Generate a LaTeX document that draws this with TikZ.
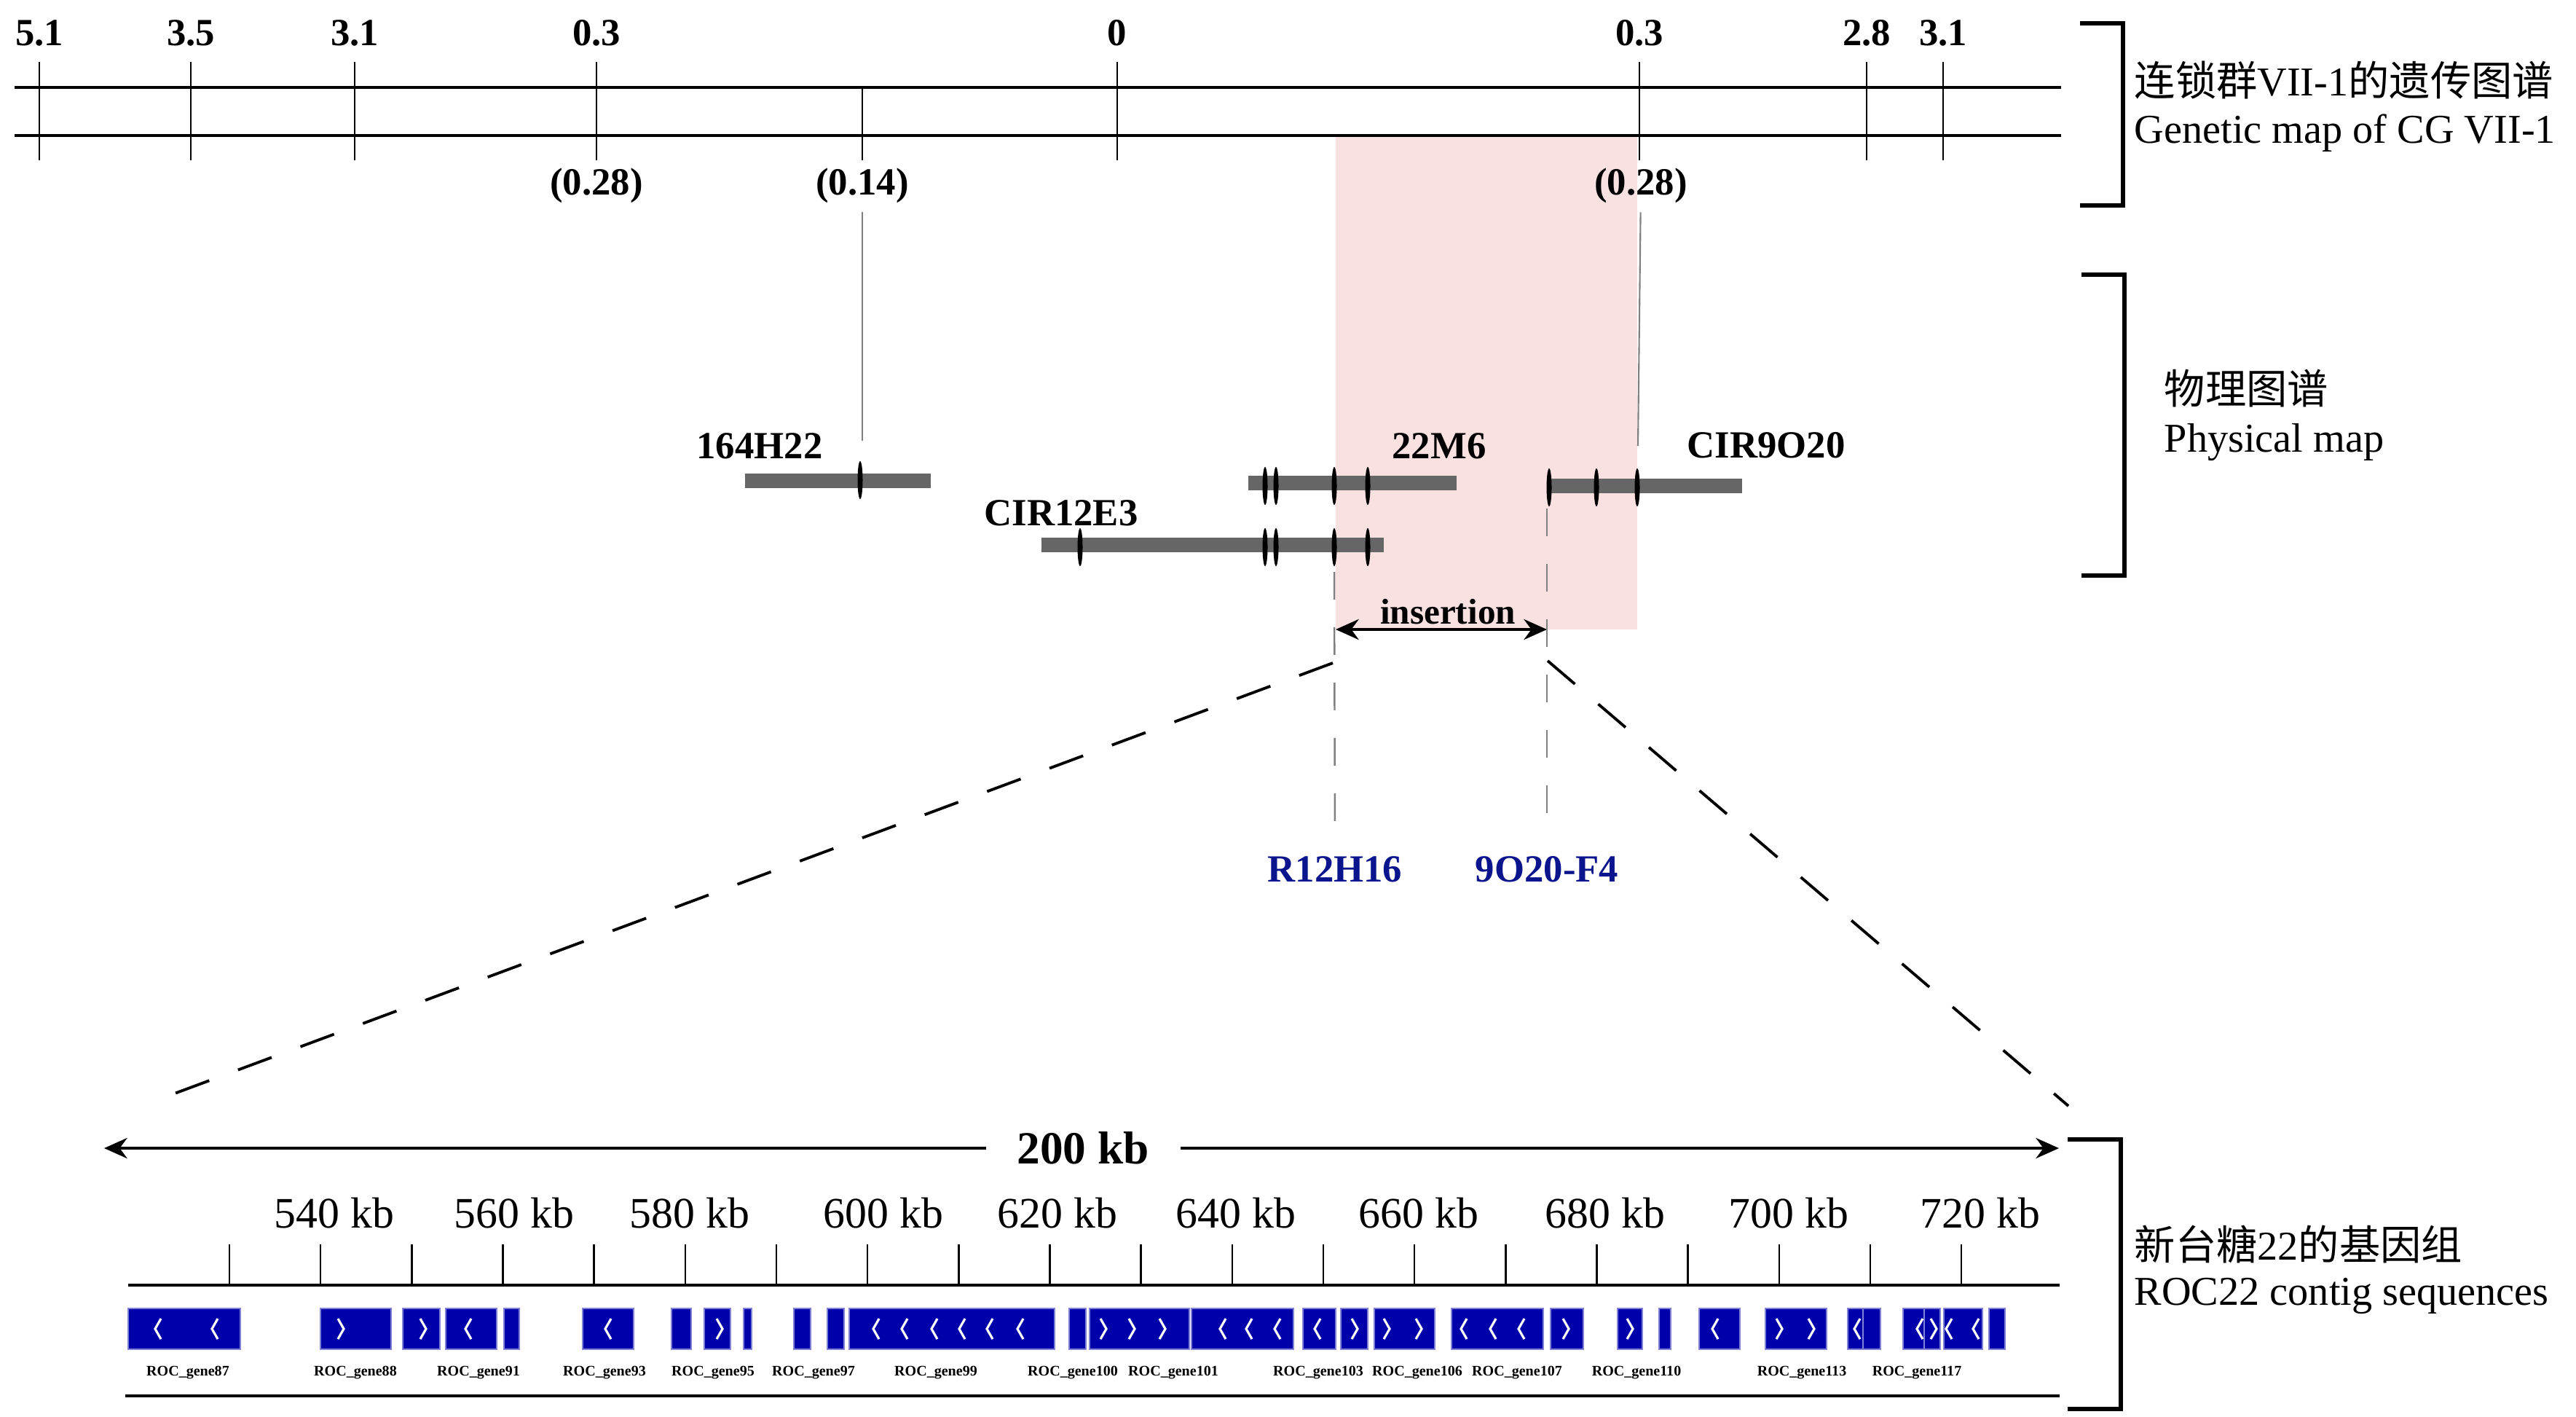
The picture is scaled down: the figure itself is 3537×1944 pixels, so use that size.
\documentclass[tikz,border=0pt]{standalone}
\usepackage{fontspec}
\setmainfont{Liberation Serif}
\newfontfamily\cjk{Noto Sans CJK SC}
\usetikzlibrary{arrows.meta}
\definecolor{insertpink}{RGB}{249,224,225}
\definecolor{clonegray}{RGB}{102,102,102}
\definecolor{geneblue}{RGB}{0,0,170}
\definecolor{markerblue}{RGB}{10,20,140}

\begin{document}
\begin{tikzpicture}[x = 0.01cm, y = -0.01cm,
    cmlabel/.style = {font = \fontsize{15}{18}\selectfont\bfseries},
    scalelabel/.style = {font = \fontsize{17}{20}\selectfont},
    genelabel/.style = {font = \fontsize{5.7}{6}\selectfont\bfseries},
    markerlabel/.style = {markerblue, font = \fontsize{15}{18}\selectfont\bfseries},
    sidelabel/.style = {anchor = west, inner sep = 0pt, font = \fontsize{16}{19}\selectfont},
    clonebar/.style = {clonegray, line width = 5.6pt},
    bracket/.style = {line width = 1.8pt},
    tipped/.style = {line width = 1.1pt, arrows = {Stealth[length = 9pt, width = 8pt]-Stealth[length = 9pt, width = 8pt]}},
]
    \useasboundingbox (0, 0) rectangle (3537, 1944);
    \fill [insertpink] (1834, 188) rectangle (2248, 864);

    \draw [line width = 1.2pt] (20, 120) -- (2830, 120);
    \draw [line width = 1.2pt] (20, 186) -- (2830, 186);
    \foreach \x/\v [count = \n] in {54/5.1, 262/3.5, 487/3.1, 819/0.3, 1534/0, 2251/0.3, 2563/2.8, 2668/3.1} {
        \draw [line width = 0.7pt] (\x, 85) -- (\x, 220);
        \node [cmlabel] (cm\n) at (\x, 45) {\v};
    }
    \draw [line width = 0.7pt] (1184, 120) -- (1184, 220);
    \node [cmlabel] (dist1) at (819, 255) {(0.28)};
    \node [cmlabel] (dist2) at (1184, 255) {(0.14)};
    \node [cmlabel] (dist3) at (2253, 255) {(0.28)};

    \coordinate (top164) at (1184, 605);
    \coordinate (top9O20) at (2249, 612);
    \draw [gray, line width = 0.6pt] (dist2) -- (top164);
    \draw [gray, line width = 0.6pt] (dist3) -- (top9O20);

    \foreach \a/\b/\y in {1023/1278/660, 1714/2000/663, 2127/2392/667, 1430/1900/748} {
        \draw [clonebar] (\a, \y) -- (\b, \y);
    }
    \foreach \x/\y in {1181/659, 1737/667, 1752/667, 1832/667, 1878/667, 2127/669, 2192/669, 2248/669,
                       1483/751, 1737/751, 1752/751, 1832/751, 1878/751} {
        \fill (\x, \y) ellipse (3.5 and 26);
    }
    \node [cmlabel] (c164H22) at (1043, 612) {164H22};
    \node [cmlabel] (c22M6) at (1976, 612) {22M6};
    \node [cmlabel] (cCIR9O20) at (2425, 611) {CIR9O20};
    \node [cmlabel] (cCIR12E3) at (1457, 704) {CIR12E3};

    \coordinate (insL) at (1834, 864);
    \coordinate (insR) at (2124, 864);
    \draw [tipped] (insL) -- (insR);
    \node [font = \fontsize{14}{17}\selectfont\bfseries] (insert) at (1988, 840) {insertion};

    \coordinate (cutL) at (1832, 785);
    \coordinate (cutR) at (2124, 698);
    \node [markerlabel] (r12) at (1833, 1193) {R12H16};
    \node [markerlabel] (f4) at (2124, 1193) {9O20-F4};
    \draw [gray, line width = 0.7pt, dash pattern = on 10.8pt off 10.8pt, shorten > = 7pt] (cutL) -- (r12);
    \draw [gray, line width = 0.7pt, dash pattern = on 10.8pt off 10.8pt, shorten > = 7pt] (cutR) -- (f4);

    \coordinate (zoomL) at (1830, 910);
    \coordinate (zoomR) at (2125, 907);
    \coordinate (contigL) at (226, 1506);
    \coordinate (contigR) at (2840, 1518);
    \draw [line width = 1.1pt, dash pattern = on 14pt off 12pt] (zoomL) -- (contigL);
    \draw [line width = 1.1pt, dash pattern = on 14pt off 12pt] (zoomR) -- (contigR);

    \node [font = \fontsize{18}{21}\selectfont\bfseries, inner xsep = 12pt] (span) at (1487, 1576) {200 kb};
    \coordinate (spanL) at (143, 1576);
    \coordinate (spanR) at (2827, 1576);
    \draw [line width = 1.05pt, -{Stealth[length = 9pt, width = 8pt]}] (span) -- (spanL);
    \draw [line width = 1.05pt, -{Stealth[length = 9pt, width = 8pt]}] (span) -- (spanR);

    \draw [line width = 1.1pt] (176, 1764) -- (2828, 1764);
    \draw [line width = 1.1pt] (172, 1916) -- (2828, 1916);
    \foreach \i in {0, ..., 19} {
        \draw [line width = 0.7pt] (315 + 125.16 * \i, 1708) -- (315 + 125.16 * \i, 1764);
    }
    \foreach \x/\kb in {459/540, 706/560, 947/580, 1213/600, 1452/620, 1697/640, 1948/660, 2204/680, 2456/700, 2719/720} {
        \node [scalelabel] (kb\kb) at (\x, 1665) {\kb{} kb};
    }

    \foreach \a/\b in {176/330, 440/537, 553/604, 612/682, 692/713, 800/870, 922/949, 967/1003, 1021/1032,
                       1090/1113, 1136/1159, 1166/1448, 1468/1491, 1496/1633, 1636/1776, 1789/1834, 1841/1878,
                       1887/1970, 1993/2119, 2129/2174, 2221/2255, 2278/2294, 2333/2389, 2424/2508, 2537/2558,
                       2558/2582, 2613/2642, 2642/2664, 2669/2722, 2731/2753} {
        \filldraw [fill = geneblue, draw = geneblue!50!white, line width = 0.4pt] (\a, 1796) rectangle (\b, 1852);
    }
    \foreach \x in {217, 295, 643, 835, 1203, 1242, 1283, 1321, 1359, 1401, 1679, 1715, 1754, 1809, 2010, 2050,
                    2089, 2355, 2550, 2636, 2676, 2713} {
        \draw [white, line width = 0.9pt] (\x + 4, 1810) -- (\x - 4, 1824) -- (\x + 4, 1838);
    }
    \foreach \x in {468, 581, 988, 1515, 1554, 1596, 1860, 1904, 1948, 2150, 2238, 2443, 2487, 2655} {
        \draw [white, line width = 0.9pt] (\x - 4, 1810) -- (\x + 4, 1824) -- (\x - 4, 1838);
    }
    \foreach \x/\g in {258/87, 488/88, 657/91, 830/93, 979/95, 1117/97, 1285/99, 1473/100, 1611/101,
                       1810/103, 1946/106, 2083/107, 2247/110, 2474/113, 2632/117} {
        \node [genelabel] (gene\g) at (\x, 1884) {ROC\_gene\g};
    }

    \draw [bracket] (2856, 32) -- (2915, 32) -- (2915, 282) -- (2856, 282);
    \draw [bracket] (2858, 377) -- (2917, 377) -- (2917, 790) -- (2858, 790);
    \draw [bracket] (2839, 1564) -- (2912, 1564) -- (2912, 1934) -- (2839, 1934);
    \node [sidelabel] (gmapcn) at (2930, 110) {{\cjk 连锁群}VII-1{\cjk 的遗传图谱}};
    \node [sidelabel] (gmapen) at (2930, 183) {Genetic map of CG VII-1};
    \node [sidelabel] (pmapcn) at (2971, 533) {\cjk 物理图谱};
    \node [sidelabel] (pmapen) at (2971, 607) {Physical map};
    \node [sidelabel] (rocn) at (2930, 1708) {{\cjk 新台糖}22{\cjk 的基因组}};
    \node [sidelabel] (roen) at (2930, 1779) {ROC22 contig sequences};
\end{tikzpicture}
\end{document}
